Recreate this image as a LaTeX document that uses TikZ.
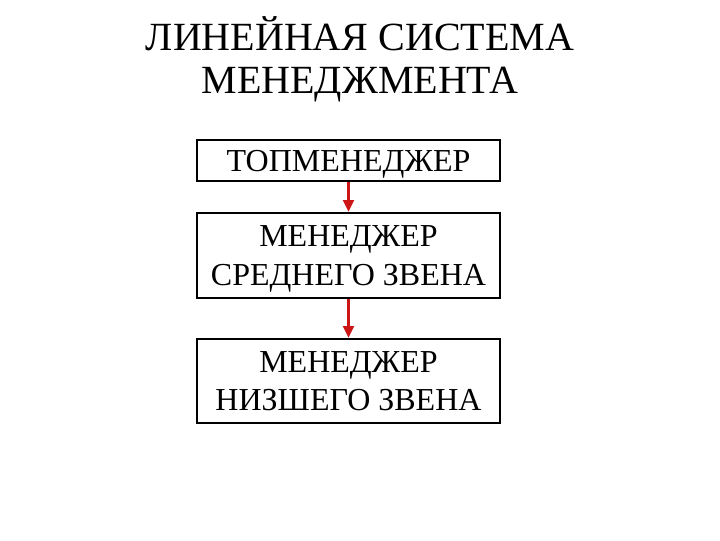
\documentclass[tikz,border=0pt]{standalone}
\usepackage{fontspec}
\setmainfont{Liberation Serif}
\usetikzlibrary{arrows.meta}

\tikzset{every picture/.style={line width=0.75pt}}
\tikzset{
	levelbox/.style={draw, line width=1.5, minimum width=227.25pt, inner sep=0pt, text depth=0pt, align=center, font=\fontsize{24}{29}\selectfont},
	redlink/.style={draw={rgb, 255:red, 204; green, 22; blue, 22}, line width=2.25, -{Triangle[length=9pt, width=8pt]}}
}

\begin{document}
\begin{tikzpicture}[x=0.75pt,y=0.75pt,yscale=-1,xscale=1]
	\useasboundingbox (0,0) rectangle (720,540);

	% Title
	\draw (360,59) node [align=center, font=\fontsize{30}{32}\selectfont]  (title) {ЛИНЕЙНАЯ СИСТЕМА\\МЕНЕДЖМЕНТА};

	% Boxes
	\draw (348.5,160.5) node [levelbox, minimum height=30.75pt]  (top) {ТОПМЕНЕДЖЕР};
	\draw (348.5,255.5) node [levelbox, minimum height=63.75pt]  (middle) {МЕНЕДЖЕР\\СРЕДНЕГО ЗВЕНА};
	\draw (348.5,381) node [levelbox, minimum height=63pt]  (lower) {МЕНЕДЖЕР\\НИЗШЕГО ЗВЕНА};

	% Connection
	\draw [redlink]  (top.south) -- (middle.north) ;
	% Connection
	\draw [redlink]  (middle.south) -- (lower.north) ;

\end{tikzpicture}
\end{document}
